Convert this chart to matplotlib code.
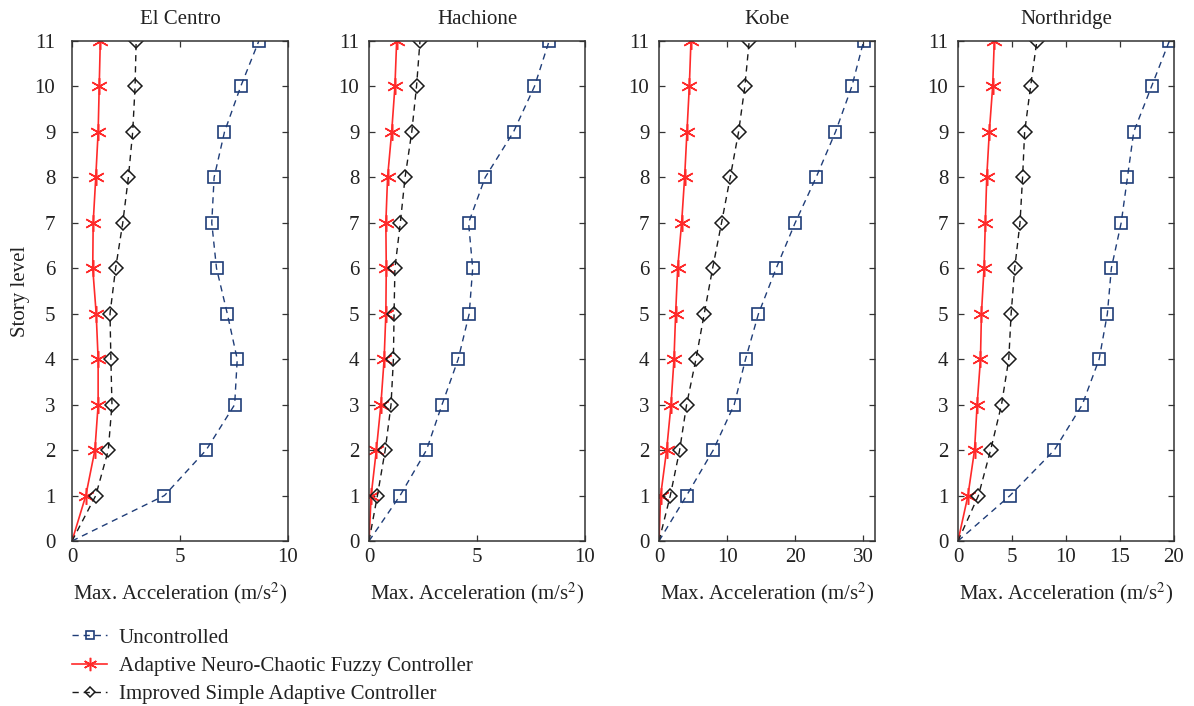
import matplotlib
matplotlib.use("Agg")
import matplotlib.pyplot as plt

# Story levels (ground = 0)
stories = list(range(0, 12))

titles = ["El Centro", "Hachione", "Kobe", "Northridge"]

# Peak floor accelerations (m/s^2), floors 0..11
unc_elcentro = [0, 4.28, 6.21, 7.53, 7.65, 7.19, 6.69, 6.47, 6.58, 7.06, 7.81, 8.65]
ancfc_elcentro = [0, 0.64, 1.06, 1.21, 1.21, 1.12, 0.96, 0.98, 1.10, 1.21, 1.26, 1.31]
isac_elcentro = [0, 1.10, 1.68, 1.85, 1.80, 1.76, 2.02, 2.35, 2.61, 2.81, 2.92, 2.97]

unc_hachione = [0, 1.44, 2.66, 3.38, 4.13, 4.64, 4.80, 4.61, 5.38, 6.69, 7.66, 8.34]
ancfc_hachione = [0, 0.10, 0.34, 0.55, 0.70, 0.78, 0.80, 0.78, 0.86, 1.05, 1.20, 1.28]
isac_hachione = [0, 0.39, 0.75, 1.02, 1.13, 1.16, 1.20, 1.45, 1.67, 1.98, 2.20, 2.36]

unc_kobe = [0, 4.05, 7.96, 11.04, 12.70, 14.60, 17.20, 19.98, 23.06, 25.90, 28.30, 30.04]
ancfc_kobe = [0, 0.24, 1.12, 1.76, 2.20, 2.44, 2.74, 3.32, 3.76, 4.10, 4.45, 4.69]
isac_kobe = [0, 1.66, 3.03, 4.05, 5.42, 6.64, 7.87, 9.18, 10.45, 11.68, 12.60, 13.24]

unc_northridge = [0, 4.82, 8.92, 11.51, 13.07, 13.83, 14.20, 15.11, 15.69, 16.27, 17.92, 19.57]
ancfc_northridge = [0, 0.92, 1.53, 1.77, 2.08, 2.17, 2.41, 2.53, 2.66, 2.90, 3.21, 3.36]
isac_northridge = [0, 1.89, 3.02, 4.03, 4.70, 4.92, 5.25, 5.74, 5.98, 6.17, 6.72, 7.30]

unc_all = [unc_elcentro, unc_hachione, unc_kobe, unc_northridge]
ancfc_all = [ancfc_elcentro, ancfc_hachione, ancfc_kobe, ancfc_northridge]
isac_all = [isac_elcentro, isac_hachione, isac_kobe, isac_northridge]

x_limits = [10, 10, 31.7, 20]
x_ticks = [[0, 5, 10], [0, 5, 10], [0, 10, 20, 30], [0, 5, 10, 15, 20]]
y_ticks = list(range(0, 12))

series_labels = ["Uncontrolled",
                 "Adaptive Neuro-Chaotic Fuzzy Controller",
                 "Improved Simple Adaptive Controller"]

plt.rcParams["font.family"] = ["Liberation Serif", "DejaVu Serif"]
plt.rcParams["mathtext.fontset"] = "stix"

W, H = 1194, 706
fig = plt.figure(figsize=(W / 100, H / 100), dpi=100)

lefts_px = [72, 369, 659, 958]
width_px = 216
top_px, bottom_px = 41, 541

blue = "#1f3d78"
red = "#ff2a2a"
black = "#1a1a1a"
spine_c = "#333333"
text_c = "#222222"
fs = 15

handles = None
for i, name in enumerate(titles):
    ax = fig.add_axes([lefts_px[i] / W, 1 - bottom_px / H,
                       width_px / W, (bottom_px - top_px) / H])
    h1, = ax.plot(unc_all[i], stories, linestyle=(0, (4.5, 3.5)), color=blue,
                  lw=1.0, marker="s", ms=8, mfc="none", mec=blue, mew=1.2)
    h2, = ax.plot(ancfc_all[i], stories, linestyle="-", color=red, lw=1.2,
                  marker=(6, 2, 0), ms=12, mec=red, mew=1.1)
    h3, = ax.plot(isac_all[i], stories, linestyle=(0, (4.5, 3.5)), color=black,
                  lw=1.0, marker="D", ms=7, mfc="none", mec=black, mew=1.1)
    # markers are drawn at floors 1..11 only
    for h in (h1, h2, h3):
        h.set_markevery(list(range(1, 12)))
    if handles is None:
        handles = [h1, h2, h3]

    ax.set_xlim(0, x_limits[i])
    ax.set_ylim(0, 11)
    ax.set_xticks(x_ticks[i])
    ax.set_yticks(y_ticks)
    ax.tick_params(direction="in", top=True, right=True, length=4.5,
                   width=0.9, color=spine_c, labelsize=fs, labelcolor=text_c)
    ax.tick_params(axis="x", pad=5)
    ax.tick_params(axis="y", pad=12 if i == 0 else 7)
    for s in ax.spines.values():
        s.set_color(spine_c)
        s.set_linewidth(1.1)
    ax.set_title(name, fontsize=fs, pad=12, color=text_c)
    ax.set_xlabel("Max. Acceleration (m/s$^2$)", fontsize=fs, labelpad=10,
                  color=text_c)
    if i == 0:
        ax.set_ylabel("Story level", fontsize=fs, labelpad=3, color=text_c)

fig.legend(handles, series_labels, loc="upper left",
           bbox_to_anchor=(72 / W, 1 - 628 / H), frameon=False, fontsize=fs,
           handlelength=1.7, handletextpad=0.55, labelspacing=0.42,
           markerscale=0.8, borderaxespad=0, borderpad=0,
           labelcolor=text_c)

fig.savefig("out.png", dpi=100)
